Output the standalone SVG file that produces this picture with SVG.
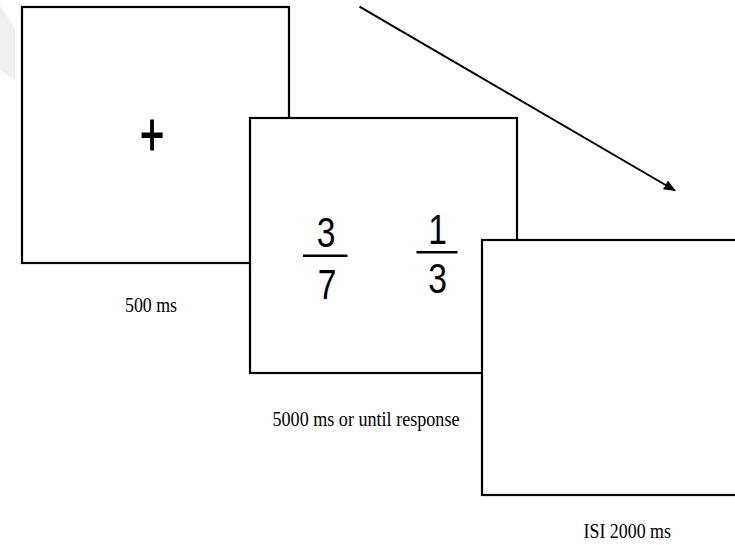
<svg xmlns="http://www.w3.org/2000/svg" width="735" height="545" viewBox="0 0 735 545">
<style>
.frame{fill:#fff;stroke:#000;stroke-width:2.2}
.num{font-family:"Liberation Sans",Arial,sans-serif;font-size:42px;fill:#000;text-anchor:middle}
.lbl{font-family:"Liberation Serif","Times New Roman",serif;font-size:22px;fill:#000}
.bar{stroke:#000;stroke-width:2.6}
</style>
<defs>
<marker id="ah" markerWidth="12" markerHeight="10" refX="11" refY="5" orient="auto" markerUnits="userSpaceOnUse">
<path d="M0,0 L12,5 L0,10 Z" fill="#000"/>
</marker>
</defs>
<rect width="735" height="545" fill="#fff"/>
<polygon points="0,6 15,28 15,80 0,70" fill="#f0f0f0"/>
<g id="screen-fixation">
<rect class="frame" x="22" y="7" width="267" height="256"/>
<g transform="translate(152,154.5) scale(0.68,1)"><text x="0" y="0" style="font-family:'Liberation Sans',Arial,sans-serif;font-size:61px;text-anchor:middle;stroke:#000;stroke-width:1.2">+</text></g>
<text class="lbl" x="125" y="312" textLength="52" lengthAdjust="spacingAndGlyphs">500 ms</text>
</g>
<g id="screen-fractions">
<rect class="frame" x="250" y="118" width="267" height="255"/>
<g transform="translate(326,246.5) scale(0.8,1)"><text class="num" x="0" y="0">3</text></g>
<line class="bar" x1="303" y1="255.7" x2="347.5" y2="255.7"/>
<g transform="translate(327,298.5) scale(0.8,1)"><text class="num" x="0" y="0">7</text></g>
<g transform="translate(437.5,243.5) scale(0.8,1)"><text class="num" x="0" y="0">1</text></g>
<line class="bar" x1="416.5" y1="252.3" x2="457.5" y2="252.3"/>
<g transform="translate(437.5,292.5) scale(0.8,1)"><text class="num" x="0" y="0">3</text></g>
<text class="lbl" x="272.5" y="426" textLength="187" lengthAdjust="spacingAndGlyphs">5000 ms or until response</text>
</g>
<g id="screen-isi">
<rect class="frame" x="482" y="240" width="262" height="255"/>
<text class="lbl" x="583.5" y="538" textLength="87.5" lengthAdjust="spacingAndGlyphs">ISI 2000 ms</text>
</g>
<g id="connectors">
<line x1="359.5" y1="6.7" x2="675" y2="190.5" stroke="#000" stroke-width="2" marker-end="url(#ah)"/>
</g>
</svg>
